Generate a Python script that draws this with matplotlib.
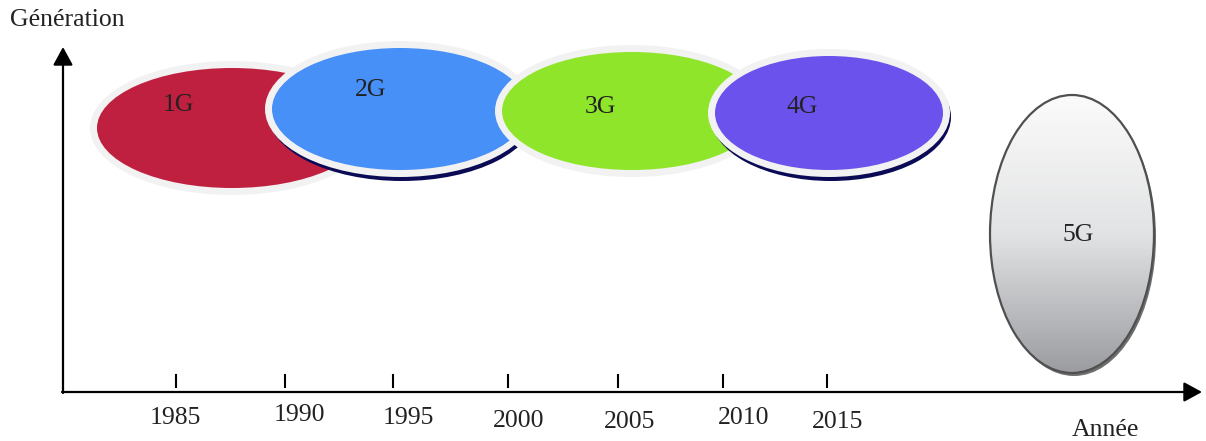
import numpy as np
import matplotlib.pyplot as plt
from matplotlib.patches import Ellipse

plt.rcParams['font.family'] = ['Liberation Serif', 'DejaVu Serif']

# generations: name, fill colour, centre (px), half axes (px), label position, shadow?
gens = ['1G', '2G', '3G', '4G']
gen_colors = ['#C02040', '#4790F7', '#8FE52A', '#6B52EC']
gen_center = [(232, 128), (400, 109), (632, 111), (829, 113)]
gen_radius = [(135, 60), (128, 61), (130, 59), (114, 57)]
gen_label = [(178, 105), (371, 90), (600, 107), (802, 107)]
gen_shadow = [False, True, False, True]

years = ['1985', '1990', '1995', '2000', '2005', '2010', '2015']
tick_x = [176, 285, 393, 508, 618, 723, 827]
year_x = [175, 299, 408, 519, 630, 744, 838]
year_y = [418, 415, 418, 421, 422, 418, 422]

fig = plt.figure(figsize=(12.06, 4.41), dpi=100)
ax = fig.add_axes([0, 0, 1, 1])
ax.set_xlim(0, 1206)
ax.set_ylim(441, 0)
ax.axis('off')

txt = dict(fontsize=18.5, color='#222222')

# axes with arrows
arrow = dict(arrowstyle='-|>,head_length=0.55,head_width=0.3', lw=1.6,
             color='black', mutation_scale=20, shrinkA=0, shrinkB=0)
ax.annotate('', xy=(63, 47), xytext=(63, 393), arrowprops=arrow)
ax.annotate('', xy=(1202, 392), xytext=(62, 392), arrowprops=arrow)

ax.text(10, 20, 'Génération', ha='left', va='center', **txt)
ax.text(1105, 430, 'Année', ha='center', va='center', **txt)

for x, lab, lx, ly in zip(tick_x, years, year_x, year_y):
    ax.plot([x, x], [375, 387], color='black', lw=1.5)
    ax.text(lx, ly, lab, ha='center', va='center', **txt)

# overlapping generation ellipses
z = 2
for name, col, (cx, cy), (rx, ry), (lx, ly), sh in zip(
        gens, gen_colors, gen_center, gen_radius, gen_label, gen_shadow):
    if sh:
        ax.add_patch(Ellipse((cx + 2, cy + 4), 2 * rx + 12, 2 * ry + 14,
                             facecolor='#0A0A55', edgecolor='none', zorder=z))
    ax.add_patch(Ellipse((cx, cy), 2 * rx + 14, 2 * ry + 14,
                         facecolor='#F2F2F2', edgecolor='none', zorder=z + 1))
    ax.add_patch(Ellipse((cx, cy), 2 * rx, 2 * ry,
                         facecolor=col, edgecolor='none', zorder=z + 2))
    ax.text(lx, ly, name, ha='center', va='center', zorder=z + 3, **txt)
    z += 4

# 5G: vertical ellipse with grey gradient
cx5, cy5, rx5, ry5 = 1072, 234, 82, 139
ax.add_patch(Ellipse((cx5 + 2, cy5 + 3), 2 * rx5, 2 * ry5,
                     facecolor='#6E6E6E', edgecolor='none', zorder=30))
grad = np.linspace(0, 1, 256).reshape(-1, 1)
img = ax.imshow(grad, cmap=plt.matplotlib.colors.LinearSegmentedColormap.from_list(
    'g5', ['#FBFBFB', '#E2E3E4', '#9A9CA0']),
    extent=(cx5 - rx5, cx5 + rx5, cy5 + ry5, cy5 - ry5), aspect='auto', zorder=31)
clip = Ellipse((cx5, cy5), 2 * rx5, 2 * ry5, facecolor='none', edgecolor='none')
ax.add_patch(clip)
img.set_clip_path(clip)
ax.add_patch(Ellipse((cx5, cy5), 2 * rx5, 2 * ry5, facecolor='none',
                     edgecolor='#505050', lw=1.6, zorder=32))
ax.text(1078, 235, '5G', ha='center', va='center', zorder=33, **txt)

ax.set_xlim(0, 1206)
ax.set_ylim(441, 0)
fig.savefig('out.png', dpi=100)
